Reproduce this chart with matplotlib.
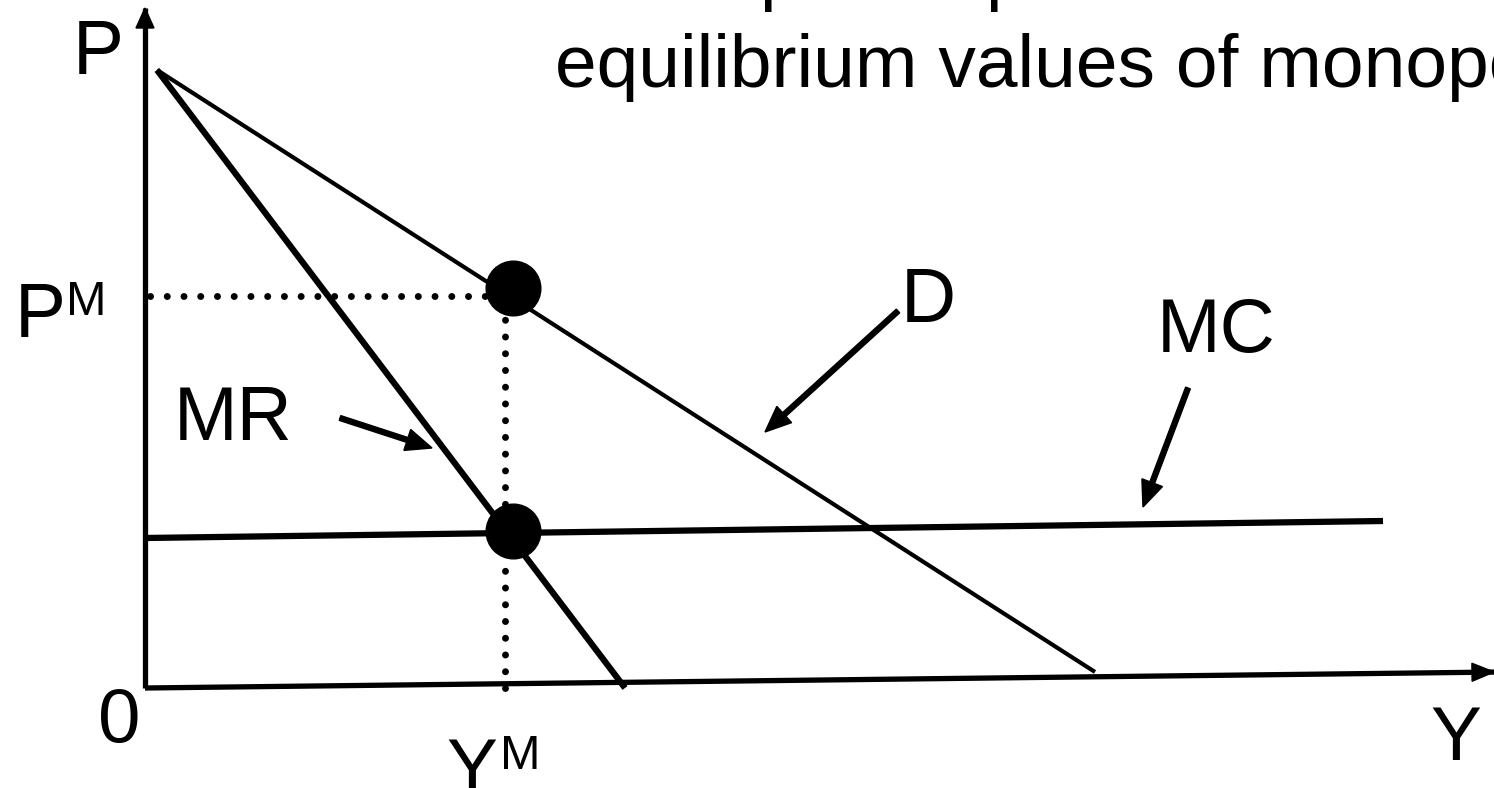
import matplotlib.pyplot as plt

# all positions are in picture pixels (x right, y down)
demand_x = [157, 1095]
demand_y = [70, 672]
mr_x = [157, 625]
mr_y = [70, 688]
mc_x = [145, 1383]
mc_y = [538, 521]

y_axis_x = [145, 145]
y_axis_y = [688, 8]
x_axis_x = [145, 1500]
x_axis_y = [688, 672]

eq_x = [513, 513]
eq_y = [288, 531]
pm_x = [150, 495]
pm_y = [296, 296]
ym_x = [505, 505]
ym_y = [303, 690]

# label arrows: (tail x, tail y, tip x, tip y)
label_arrows = [
    (340, 418, 432, 448),
    (898, 311, 765, 432),
    (1188, 388, 1143, 507),
]

fig = plt.figure(figsize=(14.94, 7.88), dpi=100)
ax = fig.add_axes([0, 0, 1, 1])
ax.set_xlim(0, 1494)
ax.set_ylim(788, 0)
ax.axis("off")

font = "Liberation Sans"

# axes with arrow heads
ax.plot(y_axis_x, y_axis_y, color="k", lw=3.8, solid_capstyle="butt")
ax.plot(x_axis_x, x_axis_y, color="k", lw=3.8, solid_capstyle="butt")
ax.arrow(y_axis_x[0], 40, 0, y_axis_y[1] - 40, width=0, head_width=18,
         head_length=20, length_includes_head=True, fc="k", ec="k")
ax.arrow(1460, 672.4, 34, -0.4, width=0, head_width=18, head_length=22,
         length_includes_head=True, fc="k", ec="k")

# curves
ax.plot(demand_x, demand_y, color="k", lw=3.0, solid_capstyle="butt")
ax.plot(mr_x, mr_y, color="k", lw=4.5, solid_capstyle="butt")
ax.plot(mc_x, mc_y, color="k", lw=4.5, solid_capstyle="butt")

# dotted guides
ax.plot(pm_x, pm_y, color="k", lw=5, dashes=[0.01, 2.4],
        dash_capstyle="round")
ax.plot(ym_x, ym_y, color="k", lw=5, dashes=[0.01, 2.4],
        dash_capstyle="round")

# equilibrium points
ax.scatter(eq_x, eq_y, s=1550, color="k", zorder=5)

# label arrows
for x0, y0, x1, y1 in label_arrows:
    ax.arrow(x0, y0, x1 - x0, y1 - y0, width=5, head_width=22,
             head_length=26, length_includes_head=True, fc="k", ec="k")

# labels
big = 55
small = 35
ax.text(73, 74, "P", fontsize=big, family=font, ha="left", va="baseline")
ax.text(15, 337, "P", fontsize=big, family=font, ha="left", va="baseline")
ax.text(66, 315, "M", fontsize=small, family=font, ha="left", va="baseline")
ax.text(174, 440, "MR", fontsize=big, family=font, ha="left", va="baseline")
ax.text(901, 322, "D", fontsize=big, family=font, ha="left", va="baseline")
ax.text(1157, 352, "MC", fontsize=big, family=font, ha="left", va="baseline")
ax.text(98, 742, "0", fontsize=big, family=font, ha="left", va="baseline")
ax.text(446, 792, "Y", fontsize=big, family=font, ha="left", va="baseline")
ax.text(500, 769, "M", fontsize=small, family=font, ha="left", va="baseline")
ax.text(1430, 760, "Y", fontsize=big, family=font, ha="left", va="baseline")

# title, cut off by the frame
ax.text(555, 87, "equilibrium values of monopoly", fontsize=54,
        family=font, ha="left", va="baseline")
ax.text(759, -3, "p", fontsize=54, family=font, ha="left", va="baseline")
ax.text(985, -3, "p", fontsize=54, family=font, ha="left", va="baseline")

fig.savefig("out.png", dpi=100)
